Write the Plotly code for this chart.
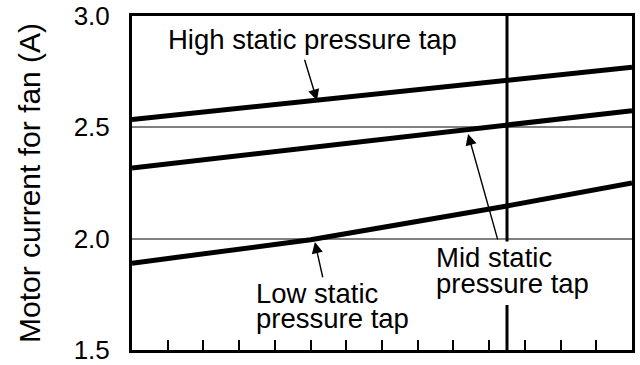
import plotly.graph_objects as go

# Posiciones a lo largo del eje x (sin etiquetas en el original)
x_pos = [0, 5, 10.5, 14]

# Corriente del motor (A) para cada toma de presión estática
high_tap = [2.535, 2.62, 2.71, 2.77]
mid_tap = [2.317, 2.41, 2.51, 2.575]
low_tap = [1.89, 1.995, 2.147, 2.25]

y_ticks = [1.5, 2.0, 2.5, 3.0]
x_ticks = list(range(1, 14))
marker_x = 10.5

FONT = "Liberation Sans, Arial, Helvetica, sans-serif"

fig = go.Figure()
for name, vals in [("High", high_tap), ("Mid", mid_tap), ("Low", low_tap)]:
    fig.add_trace(
        go.Scatter(
            x=x_pos,
            y=vals,
            mode="lines",
            name=name,
            line=dict(color="black", width=5),
            showlegend=False,
            hoverinfo="skip",
        )
    )

# Línea vertical y fondo blanco detrás del texto "Mid static"
fig.add_shape(
    type="line", xref="x", yref="y",
    x0=marker_x, x1=marker_x, y0=1.5, y1=3.0,
    line=dict(color="black", width=3), layer="above",
)
fig.add_shape(
    type="rect", xref="paper", yref="paper",
    x0=0.72, x1=0.78, y0=0.135, y1=0.325,
    fillcolor="white", line=dict(width=0), layer="above",
)

txt = dict(family=FONT, size=27.5, color="black")

# Textos de las curvas
labels = [
    ("High static pressure tap", 0.068, 0.93),
    ("Mid static", 0.604, 0.278),
    ("pressure tap", 0.604, 0.2),
    ("Low static", 0.243, 0.168),
    ("pressure tap", 0.243, 0.093),
]
for text, xp, yp in labels:
    fig.add_annotation(
        text=text, xref="paper", yref="paper", x=xp, y=yp,
        xanchor="left", yanchor="middle", showarrow=False, font=txt,
    )

# Flechas (cola -> punta)
arrows = [
    (4.82, 2.81, 5.18, 2.62),
    (10.25, 1.99, 9.41, 2.47),
    (5.35, 1.82, 5.12, 1.985),
]
for ax, ay, x, y in arrows:
    fig.add_annotation(
        text="", x=x, y=y, ax=ax, ay=ay, xref="x", yref="y",
        axref="x", ayref="y", showarrow=True,
        arrowhead=2, arrowsize=1.6, arrowwidth=1.4, arrowcolor="black",
    )

# Título del eje y
fig.add_annotation(
    text="Motor current for fan (A)", xref="paper", yref="paper",
    x=-0.206, y=0.5, textangle=-90, showarrow=False,
    xanchor="center", yanchor="middle",
    font=dict(family=FONT, size=30, color="black"),
)

fig.update_xaxes(
    range=[0, 14], tickvals=x_ticks, ticks="inside", ticklen=10,
    tickwidth=1.5, tickcolor="black", showticklabels=False,
    showgrid=False, zeroline=False, automargin=False,
    showline=True, linecolor="black", linewidth=3, mirror=True,
)
fig.update_yaxes(
    range=[1.5, 3.0], tickvals=y_ticks, tickformat=".1f", ticks="",
    ticklabelstandoff=14, automargin=False, ticklabeloverflow="allow",
    tickfont=dict(family=FONT, size=26, color="black"),
    showgrid=True, gridcolor="#808080", gridwidth=1.5, zeroline=False,
    showline=True, linecolor="black", linewidth=3, mirror=True,
)
fig.update_layout(
    width=640, height=365,
    margin=dict(l=132, r=8, t=16, b=15),
    paper_bgcolor="white", plot_bgcolor="white",
)

# sin margen del <body>, para que la figura empiece en (0, 0)
fig.write_html(
    "out.html",
    config={"displayModeBar": False},
    post_script="document.body.style.margin='0';",
)
